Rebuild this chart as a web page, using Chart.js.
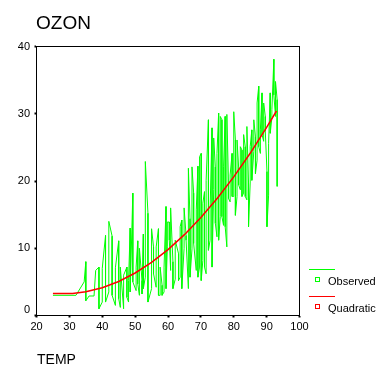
<!DOCTYPE html>
<html>
<head>
<meta charset="utf-8">
<script src="https://cdn.jsdelivr.net/npm/chart.js@4/dist/chart.umd.min.js"></script>
<style>
  html, body { margin: 0; padding: 0; background: #fff; }
</style>
</head>
<body>
<canvas id="chart" width="386" height="376"></canvas>
<script>
const chartTitle = "OZON";
const xAxisTitle = "TEMP";
const seriesNames = ["Observed", "Quadratic"];
const xTicks = [20, 30, 40, 50, 60, 70, 80, 90, 100];
const yTicks = [0, 10, 20, 30, 40];

// observed points, sorted by TEMP
const obsTemp = [
  25, 32, 34.5, 35, 35, 36, 37.5, 38, 39, 39, 40, 40, 41, 41, 42, 42, 43, 43, 44, 44,
  45, 45, 45.5, 45.5, 46.5, 46.5, 47.5, 47.5, 48, 48, 48.5, 48.5, 49.3, 49.3, 50.3, 50.3,
  50.8, 50.8, 51.3, 51.3, 52.1, 52.1, 52.5, 52.5, 53.1, 53.1, 53.9, 53.9, 55, 55,
  55.6, 55.6, 56.4, 56.4, 57.1, 57.1, 57.6, 57.6, 58.2, 58.2, 58.8, 58.8, 59.4, 59.4,
  59.8, 59.8, 60.4, 60.4, 60.8, 60.8, 61.5, 61.5, 62.2, 62.2, 63.2, 63.2, 63.7, 63.7,
  64.2, 64.2, 64.9, 64.9, 65.5, 65.5, 66.2, 66.2, 66.7, 66.7, 67.3, 67.3, 67.8, 67.8,
  68.6, 68.6, 69.1, 69.1, 69.6, 69.6, 70.1, 70.1, 70.6, 70.6, 71.1, 71.1, 71.6, 71.6,
  72.3, 72.3, 72.8, 72.8, 73.4, 73.4, 73.9, 73.9, 74.4, 74.4, 74.9, 74.9, 75.4, 75.4,
  75.9, 75.9, 76.4, 76.4, 76.9, 76.9, 77.4, 77.4, 77.9, 77.9, 78.4, 78.4, 78.9, 78.9,
  79.5, 79.5, 80, 80, 80.5, 80.5, 81, 81, 81.5, 81.5, 82, 82, 82.5, 82.5, 83, 83,
  83.5, 83.5, 84, 84, 84.5, 84.5, 85, 85, 85.5, 85.5, 86.1, 86.1, 86.6, 86.6, 87.1, 87.1,
  87.6, 87.6, 88.1, 88.1, 88.6, 88.6, 89.1, 89.1, 89.6, 89.6, 90.1, 90.1, 90.6, 90.6,
  91.1, 91.1, 91.6, 91.6, 92.2, 92.2, 92.7, 92.7, 93.2, 93.2
];
const obsOzone = [
  3, 3, 5, 8, 2.2, 2.9, 2.9, 6.7, 7.2, 1.0, 2.0, 7.0, 11.9, 2.0, 3.5, 14.0, 11.8, 3.0, 1.5, 7.1,
  11.1, 2.5, 1.2, 7.2, 1.0, 6.0, 7.2, 2.7, 2.0, 5.2, 13.0, 3.5, 18.2, 5.0, 3.7, 7.2,
  11.1, 4.7, 3.0, 10.0, 5.2, 3.2, 12.1, 4.0, 5.7, 22.9, 15.2, 2.0, 4.0, 12.9,
  10.2, 6.2, 4.2, 10.2, 12.9, 3.0, 3.0, 7.2, 4.5, 3.0, 3.5, 7.2, 16.2, 4.0,
  10.2, 13.9, 13.9, 11.2, 6.7, 16.0, 8.0, 4.0, 5.4, 11.2, 9.2, 5.2, 5.7, 13.2,
  14.2, 4.0, 10.0, 16.0, 11.9, 11.2, 4.0, 21.9, 14.4, 5.7, 9.9, 22.1, 18.2, 10.7,
  6.7, 15.7, 22.2, 5.7, 7.2, 23.6, 24.1, 5.2, 8.2, 16.7, 18.4, 7.2, 6.2, 20.1,
  29.1, 9.7, 11.2, 15.7, 27.9, 7.2, 18.7, 26.4, 22.1, 13.7, 11.7, 24.1, 30.1, 11.2,
  14.7, 29.6, 29.1, 14.7, 13.4, 22.1, 29.6, 13.2, 10.2, 29.9, 19.7, 17.4, 16.9, 20.9,
  24.1, 17.7, 17.7, 30.3, 26.1, 14.9, 17.7, 26.1, 21.9, 19.4, 18.7, 25.1, 24.6, 17.7, 18.2, 26.9,
  25.1, 17.7, 17.2, 28.1, 19.7, 13.2, 19.7, 25.1, 27.6, 20.1, 24.4, 29.1, 26.6, 21.1, 23.1, 31.6,
  34.1, 25.1, 24.1, 27.6, 33.1, 26.9, 25.9, 31.6, 29.6, 27.4, 21.4, 13.2, 17.9, 25.6,
  33.1, 27.1, 29.4, 30.6, 38.1, 32.8, 29.6, 34.8, 32.1, 19.2
];

// quadratic fit curve
const fitTemp = [25, 31, 35, 40, 45, 50, 55, 60, 65, 70, 75, 80, 85, 90, 93];
const fitOzone = [3.26, 3.26, 3.52, 4.13, 5.06, 6.32, 7.89, 9.79, 12.02, 14.56, 17.43, 20.61, 24.12, 27.96, 30.41];

const obsColour = "#00ff00";
const fitColour = "#ff0000";
const fontFamily = "'Liberation Sans', Arial, sans-serif";

const decorations = {
  id: "decorations",
  afterDraw(chart) {
    const ctx = chart.ctx;
    const area = chart.chartArea;
    const yScale = chart.scales.y;
    ctx.save();
    // frame
    ctx.strokeStyle = "#000";
    ctx.lineWidth = 1;
    ctx.strokeRect(area.left, area.top, area.right - area.left, area.bottom - area.top);

    // y tick labels (bottom one sits a bit higher, like the original)
    ctx.fillStyle = "#000";
    ctx.font = "11px " + fontFamily;
    ctx.textAlign = "right";
    ctx.textBaseline = "middle";
    yTicks.forEach(v => {
      let y = yScale.getPixelForValue(v);
      if (v === yTicks[0]) y -= 6;
      ctx.fillText(String(v), 30, y);
    });

    // titles
    ctx.textAlign = "left";
    ctx.textBaseline = "alphabetic";
    ctx.font = "19px " + fontFamily;
    ctx.fillText(chartTitle, 36, 28.5);
    ctx.font = "14px " + fontFamily;
    ctx.fillText(xAxisTitle, 37, 364);

    // legend
    const colours = [obsColour, fitColour];
    const rows = [269.5, 296.5];
    ctx.font = "11px " + fontFamily;
    seriesNames.forEach((name, i) => {
      const y = rows[i];
      ctx.strokeStyle = colours[i];
      ctx.beginPath();
      ctx.moveTo(309, y);
      ctx.lineTo(335, y);
      ctx.stroke();
      ctx.strokeRect(315.5, y + 8, 4, 4);
      ctx.fillStyle = "#000";
      ctx.fillText(name, 328, y + 15);
    });
    ctx.restore();
  }
};

new Chart(document.getElementById("chart").getContext("2d"), {
  type: "scatter",
  data: {
    datasets: [
      {
        label: seriesNames[1],
        data: fitTemp.map((t, i) => ({ x: t, y: fitOzone[i] })),
        borderColor: fitColour,
        borderWidth: 1.5,
        pointRadius: 0,
        showLine: true,
        fill: false,
        order: 0
      },
      {
        label: seriesNames[0],
        data: obsTemp.map((t, i) => ({ x: t, y: obsOzone[i] })),
        borderColor: obsColour,
        borderWidth: 1,
        pointRadius: 0,
        showLine: true,
        fill: false,
        order: 1
      }
    ]
  },
  options: {
    responsive: false,
    animation: false,
    devicePixelRatio: 1,
    layout: { padding: { top: 46.5, right: 86.5, left: 0, bottom: 0 } },
    scales: {
      x: {
        type: "linear",
        min: 20,
        max: 100,
        afterBuildTicks: s => { s.ticks = xTicks.map(v => ({ value: v })); },
        afterFit: s => { s.height = 60.5; },
        grid: { drawOnChartArea: false, drawTicks: true, tickLength: 2, tickWidth: 2, tickColor: "#000" },
        border: { display: true, color: "#000", width: 1 },
        ticks: { color: "#000", font: { family: fontFamily, size: 11 }, padding: 3, maxRotation: 0, autoSkip: false }
      },
      y: {
        type: "linear",
        min: 0,
        max: 40,
        afterBuildTicks: s => { s.ticks = yTicks.map(v => ({ value: v })); },
        afterFit: s => { s.width = 36.5; },
        grid: { drawOnChartArea: false, drawTicks: true, tickLength: 2, tickWidth: 2, tickColor: "#000" },
        border: { display: true, color: "#000", width: 1 },
        ticks: { display: false }
      }
    },
    plugins: {
      legend: { display: false },
      tooltip: { enabled: false },
      title: { display: false }
    }
  },
  plugins: [decorations]
});
</script>
</body>
</html>
